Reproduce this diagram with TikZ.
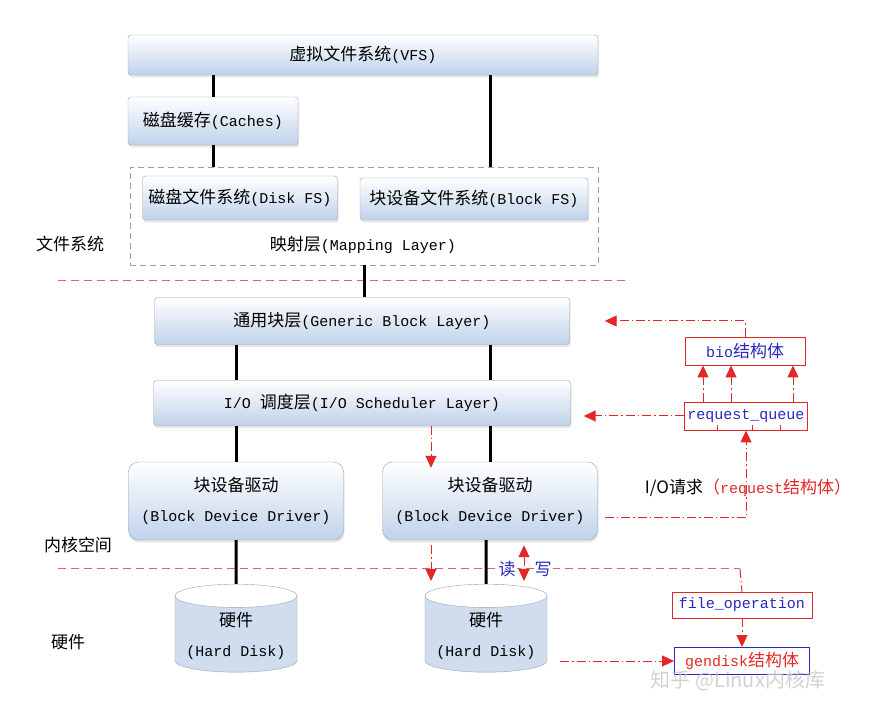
\documentclass[tikz,border=0pt]{standalone}
\usepackage{fontspec}
\setmainfont{Noto Sans CJK SC}
\setmonofont{Liberation Mono}
\usetikzlibrary{shapes.geometric, arrows.meta, positioning, shadows}
\definecolor{kernRed}{RGB}{228,38,38}
\definecolor{kernPink}{RGB}{222,96,104}
\definecolor{kernBlue}{RGB}{40,40,190}
\definecolor{kernFrame}{RGB}{150,160,175}
\definecolor{kernShade}{RGB}{192,210,234}
\newcommand{\eng}[1]{{\fontsize{15}{30}\selectfont\ttfamily #1}}

\begin{document}
\begin{tikzpicture}[x=1pt, y=-1pt,
    layer/.style={rectangle, rounded corners=3pt, draw=kernFrame, top color=white, bottom color=kernShade,
      drop shadow={shadow xshift=1pt, shadow yshift=-2.5pt, fill=gray!40},
      align=center, inner sep=2pt, font=\fontsize{17}{30}\selectfont},
    driver/.style={layer, rounded corners=10pt, minimum width=215pt, minimum height=78pt},
    disk/.style={cylinder, shape border rotate=90, aspect=0.22, draw=kernFrame, cylinder uses custom fill,
      cylinder body fill=kernShade!75, cylinder end fill=white, minimum width=122pt, minimum height=88pt,
      align=center, font=\fontsize{17}{30}\selectfont},
    mapbox/.style={draw=kernFrame, dash pattern=on 6pt off 4pt, line width=0.9pt},
    side/.style={font=\fontsize{17}{20}\selectfont},
    struct/.style={draw=kernRed, line width=0.9pt, inner sep=2pt, text=kernBlue, font=\fontsize{17}{20}\selectfont},
    link/.style={draw=black, line width=3pt},
    sepline/.style={draw=kernPink, dash pattern=on 8pt off 5pt, line width=1pt},
    flow/.style={draw=kernRed, dash pattern=on 9pt off 3pt on 1.5pt off 3pt, line width=1pt},
    flowarrow/.style={flow, -{Triangle[length=12pt,width=11pt]}}
  ]
  \useasboundingbox (0,0) rectangle (879,708);

  % file system part
  \node[layer, minimum width=470pt, minimum height=40pt] (vfs) at (363,55) {虚拟文件系统\eng{(VFS)}};
  \node[layer, minimum width=170pt, minimum height=48pt] (caches) at (213,121) {磁盘缓存\eng{(Caches)}};
  \node[mapbox, minimum width=468pt, minimum height=98pt] (mapping) at (364,216) {};
  \node[layer, minimum width=195pt, minimum height=44pt] (diskfs) at (240,198) {磁盘文件系统\eng{(Disk FS)}};
  \node[layer, minimum width=228pt, minimum height=42pt] (blockfs) at (474,199) {块设备文件系统\eng{(Block FS)}};
  \node[font=\fontsize{17}{20}\selectfont] (maptext) at (363,245) {映射层\eng{(Mapping Layer)}};

  % kernel part
  \node[layer, minimum width=415pt, minimum height=47pt] (generic) at (362,321) {通用块层\eng{(Generic Block Layer)}};
  \node[layer, minimum width=417pt, minimum height=45pt] (sched) at (362,403) {\eng{I/O }调度层\eng{(I/O Scheduler Layer)}};
  \node[driver] (drvA) at (236,501) {块设备驱动\\\eng{(Block Device Driver)}};
  \node[driver] (drvB) at (490,501) {块设备驱动\\\eng{(Block Device Driver)}};

  % hardware
  \node[disk] (diskA) at (236,636) {硬件\\\eng{(Hard Disk)}};
  \node[disk] (diskB) at (486,636) {硬件\\\eng{(Hard Disk)}};

  \node[side] (fslabel) at (70,244) {文件系统};
  \node[side] (kslabel) at (78,545) {内核空间};
  \node[side] (hwlabel) at (68,642) {硬件};

  % structures
  \node[struct, minimum width=120pt, minimum height=28pt] (bio) at (745,351) {\eng{bio}结构体};
  \node[struct, minimum width=123pt, minimum height=28pt] (rq) at (746,416) {\eng{request\_queue}};
  \node[font=\fontsize{17}{20}\selectfont] (ioreq) at (748,488) {I/O请求{\color{kernRed}（\eng{request}结构体）}};
  \node[struct, minimum width=140pt, minimum height=26pt] (fileop) at (742,605) {\eng{file\_operation}};
  \node[struct, draw=kernBlue, text=kernRed, minimum width=135pt, minimum height=27pt] (gendisk) at (742,661) {\eng{gendisk}结构体};

  % layer separators
  \coordinate (sepend) at (740,569);
  \draw[sepline] (58,281) -- (630,281);
  \draw[sepline] (58,569) -- (sepend);

  % black connectors
  \draw[link] (caches.north) -- (caches.north |- vfs.south);
  \draw[link] (caches.south) -- (caches.south |- mapping.north);
  \draw[link] (vfs.south -| drvB) -- (mapping.north -| drvB);
  \draw[link] (mapping.south) -- (mapping.south |- generic.north);
  \draw[link] (generic.south -| drvA) -- (sched.north -| drvA);
  \draw[link] (generic.south -| drvB) -- (sched.north -| drvB);
  \draw[link] (sched.south -| drvA) -- (drvA.north);
  \draw[link] (sched.south -| drvB) -- (drvB.north);
  \draw[link] (drvA.south) -- (diskA.north);
  \draw[link] (drvB.south -| diskB) -- (diskB.north);

  % request flow
  \coordinate (rdx) at (431,0);
  \coordinate (rwx) at (524,0);
  \draw[flowarrow] (sched.south -| rdx) -- ([yshift=-6pt]drvB.north -| rdx);
  \draw[flowarrow] ([yshift=-5pt]drvB.south -| rdx) -- ([yshift=3pt]diskB.north -| rdx);
  \draw[flow, {Triangle[length=12pt,width=11pt]}-{Triangle[length=12pt,width=11pt]}] ([yshift=-5pt]drvB.south -| rwx) -- ([yshift=3pt]diskB.north -| rwx);
  \node[fill=white, inner sep=1pt, text=kernBlue, font=\fontsize{17}{20}\selectfont] (rd) at (507,569) {读};
  \node[fill=white, inner sep=1pt, text=kernBlue, font=\fontsize{17}{20}\selectfont] (wr) at (543,569) {写};

  \draw[flowarrow] (bio.north) |- ([xshift=35pt]generic.east);
  \draw[flowarrow] (rq.west) -- ([xshift=13pt]sched.east |- rq.west);
  \foreach \dx in {-43,-15,47}
    \draw[flowarrow] ([xshift=\dx pt]rq.north) -- ([xshift=\dx pt]rq.north |- bio.south);
  \foreach \tx in {-29,6,34}
    \draw[kernRed, line width=0.8pt] ([xshift=\tx pt]rq.south) -- ++(0,-5);
  \draw[flowarrow] ([xshift=7pt,yshift=-17pt]drvB.east) -| (rq.south);
  \draw[flow] (sepend) -- (fileop.north);
  \draw[flowarrow] (fileop.south) -- (gendisk.north);
  \draw[flowarrow] ([xshift=13pt]diskB.east |- gendisk.west) -- (gendisk.west);

  \node[text=gray!45, opacity=0.8, font=\fontsize{20}{24}\selectfont] (mark) at (738,681) {知乎 @Linux内核库};
\end{tikzpicture}
\end{document}
